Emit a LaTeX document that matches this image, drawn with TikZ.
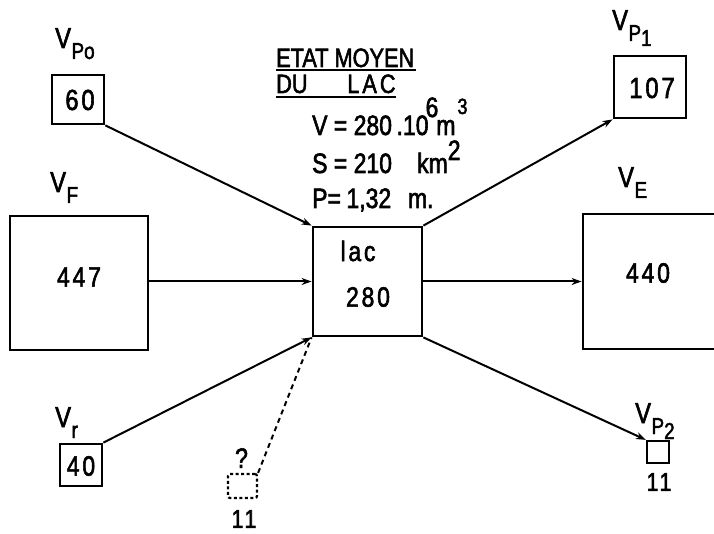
\documentclass[tikz,border=0pt]{standalone}
\usepackage{fontspec}
\setmainfont{Liberation Sans}[FakeStretch=0.82,FakeBold=2]
\newfontfamily\spaced{Liberation Sans}[FakeStretch=0.82,FakeBold=2,LetterSpace=10]
\usetikzlibrary{arrows.meta}
\newcommand\Vsub[1]{V\kern0.5pt\raisebox{-11pt}{\fontsize{23}{23}\selectfont #1}}
\begin{document}
\begin{tikzpicture}[x=1pt,y=-1pt,
  box/.style={draw, line width=2.8pt, inner sep=0},
  qbox/.style={draw, line width=2.2pt, dash pattern=on 3pt off 2.5pt, rounded corners=2pt, inner sep=0},
  num/.style={inner sep=0, font=\spaced\fontsize{29}{30}\selectfont},
  lab/.style={inner sep=0, anchor=base west, font=\fontsize{29}{30}\selectfont},
  txt/.style={inner sep=0, anchor=base west, font=\fontsize{28}{30}\selectfont},
  arr/.style={line width=2pt, -{Stealth[length=10pt,width=7pt]}},
  dline/.style={line width=2pt, dash pattern=on 5pt off 4pt},
  uline/.style={line width=2pt}]
\useasboundingbox (0,0) rectangle (714,534);
\fill[white] (0,0) rectangle (714,534);
\clip (0,0) rectangle (714,534);

% boxes
\node[box, minimum width=52pt, minimum height=49pt] (vpo) at (78,99.5) {};
\node[box, minimum width=138pt, minimum height=134pt] (vf) at (79,283) {};
\node[box, minimum width=109pt, minimum height=109pt] (lac) at (367.5,281.5) {};
\node[box, minimum width=72pt, minimum height=62pt] (vp1) at (650,87) {};
\node[box, minimum width=167pt, minimum height=135pt] (ve) at (666.5,281.5) {};
\node[box, minimum width=42pt, minimum height=42pt] (vr) at (81,465) {};
\node[box, line width=2.2pt, minimum width=22pt, minimum height=22pt] (vp2) at (658,452) {};
\node[qbox, minimum width=29pt, minimum height=24pt] (q) at (242.5,486) {};

% numbers
\node[num] (n60) at (80,100) {60};
\node[num, font=\spaced\fontsize{28}{30}\selectfont] (n447) at (79,277) {447};
\node[num, font=\spaced\fontsize{28}{30}\selectfont] (nlac) at (358,251) {lac};
\node[num, font=\spaced\fontsize{28}{30}\selectfont] (n280) at (368,297) {280};
\node[num] (n107) at (652,88) {107};
\node[num, font=\spaced\fontsize{28}{30}\selectfont] (n440) at (648,273) {440};
\node[num, font=\spaced\fontsize{28}{30}\selectfont] (n40) at (81,466) {40};
\node[num, font=\fontsize{28}{30}\selectfont] (nq) at (241.5,458) {?};
\node[num, font=\spaced\fontsize{26}{30}\selectfont] (n11a) at (244,519) {11};
\node[num, font=\spaced\fontsize{26}{30}\selectfont] (n11b) at (659,482) {11};

% labels
\node[lab] (lvpo) at (55,48) {\Vsub{Po}};
\node[lab] (lvp1) at (612,30) {\Vsub{P\raisebox{-5pt}{1}}};
\node[lab] (lvf) at (50,192) {\Vsub{F}};
\node[lab] (lve) at (618,187) {\Vsub{E}};
\node[lab] (lvr) at (55,427) {\Vsub{r}};
\node[lab] (lvp2) at (635,423) {\Vsub{P\raisebox{-5pt}{2}}};

% title and data
\node[txt, font=\fontsize{26.5}{30}\selectfont] (t1) at (276,67) {ETAT MOYEN};
\node[txt, font=\fontsize{26.5}{30}\selectfont] (t2) at (276,93) {DU\hspace{1.5em}L\kern3pt A\kern3pt C};
\draw[uline] ([yshift=-3.5pt]t1.base west) -- ([yshift=-3.5pt,xshift=2pt]t1.base east);
\draw[uline] ([yshift=-4.5pt]t2.base west) -- ([yshift=-4.5pt]t2.base east);
\node[txt] (d1) at (312,135) {V = 280\,.10\kern-3pt\raisebox{18pt}{6}\kern-2pt m\kern2pt\raisebox{21pt}{\fontsize{22}{22}\selectfont 3}};
\node[txt] (d2) at (312,173) {S = 210\hspace{0.9em}km\raisebox{13pt}{2}};
\node[txt] (d3) at (312,208) {P=\hspace{0.2em}1,32\hspace{0.6em}m.};

% connectors
\draw[arr] (vpo.south east) -- (lac.north west);
\draw[arr] (vf.east |- lac.west) -- (lac.west);
\draw[arr] (vr.north east) -- (lac.south west);
\draw[dline] (q.north east) -- (lac.south west);
\draw[arr] (lac.north east) -- (vp1.south west);
\draw[arr] (lac.east) -- (ve.west);
\draw[arr] (lac.south east) -- (vp2.north west);
\end{tikzpicture}
\end{document}
